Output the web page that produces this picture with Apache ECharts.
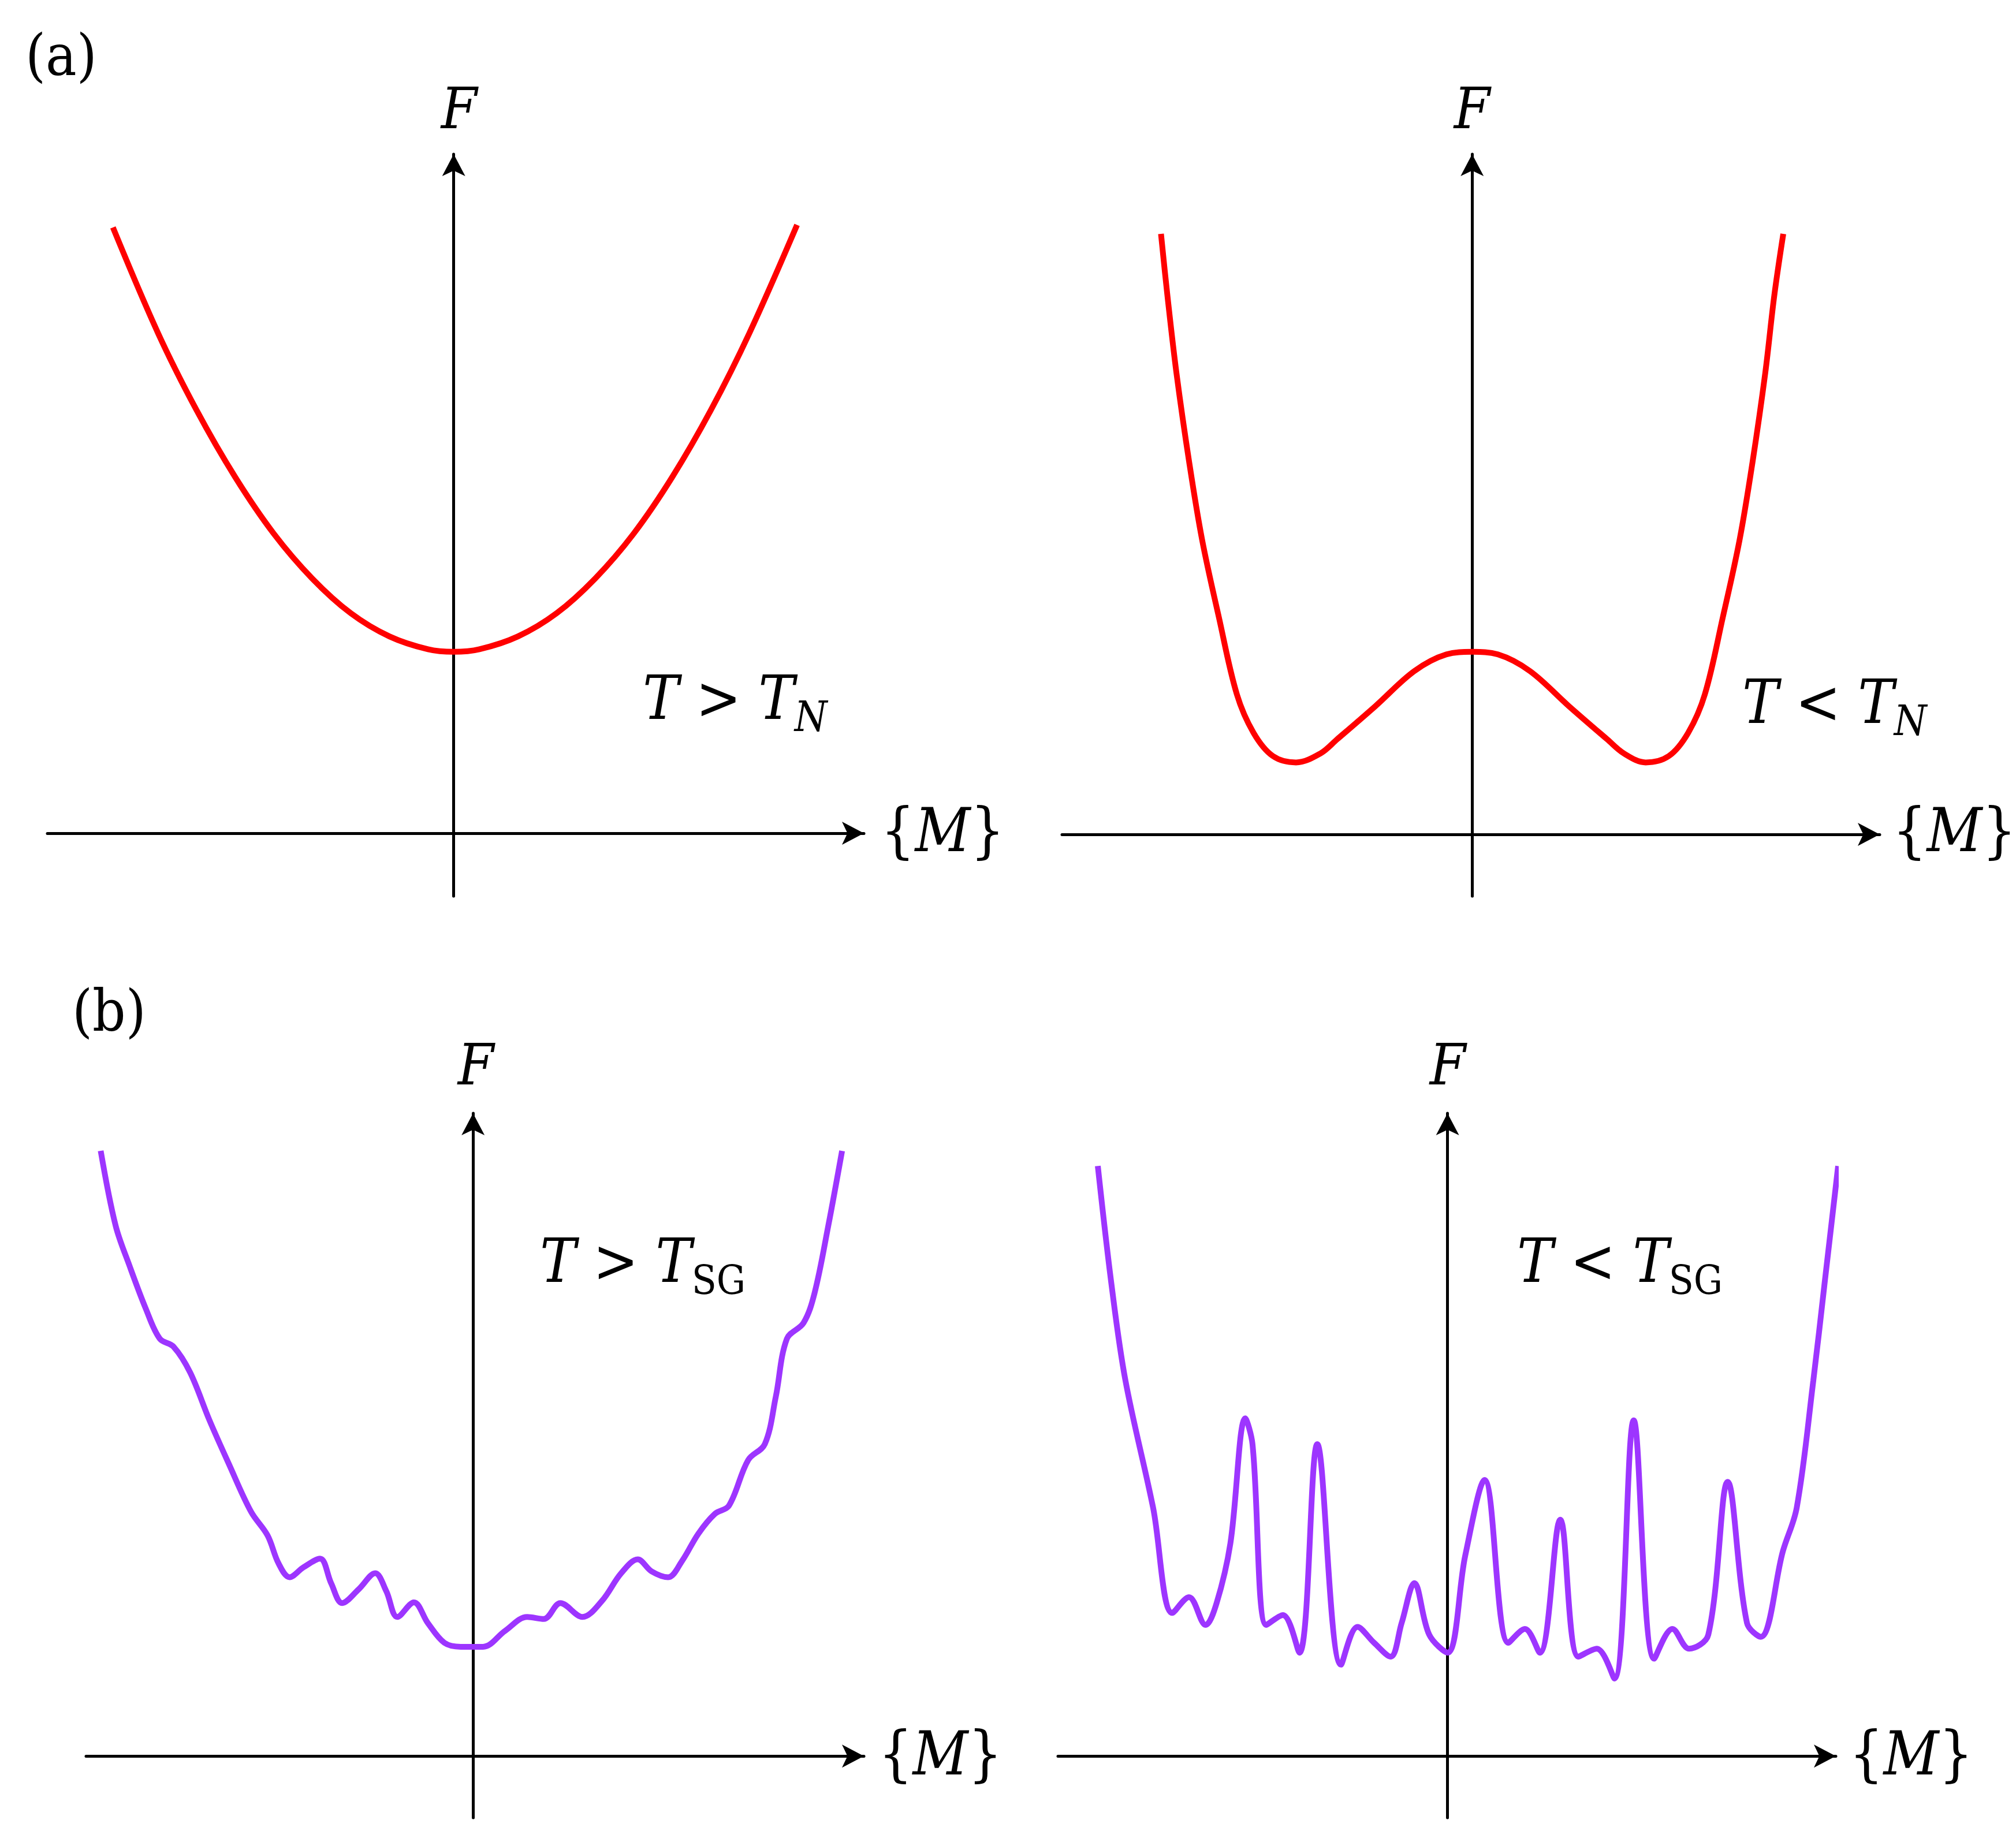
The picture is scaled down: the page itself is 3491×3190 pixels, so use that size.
<!DOCTYPE html>
<html>
<head>
<meta charset="utf-8">
<script src="https://cdn.jsdelivr.net/npm/echarts@6/dist/echarts.min.js"></script>
<style>html,body{margin:0;background:#fff}#c{width:3491px;height:3190px}</style>
</head>
<body>
<div id="c"></div>
<script>
// curve points, x/y measured from each panel's origin (picture units)
var aboveTN = [[-265,471],[-230,389],[-200,329],[-170,277],[-140,233],[-110,198],[-80,171],[-50,153],[-20,143],[0,141],
  [20,143],[50,153],[80,171],[110,198],[140,233],[170,277],[200,329],[230,389],[267,473]];
var belowTN = [[-242,467],[-237,419],[-230,359],[-220,289],[-210,229],[-197,169],[-183,109],[-170,79],[-155,61],[-137,56],
  [-118,63],[-105,74],[-75,100],[-45,127],[-20,140],[0,142],[20,140],[45,127],[75,100],[105,74],[118,63],
  [135,56],[153,61],[168,79],[181,109],[195,169],[208,229],[218,289],[228,359],[235,419],[242,467]];
var aboveTSG = [[-289.6,470.8],[-278,412.6],[-267.3,381.7],[-254.4,347.7],[-243.6,324.6],[-232.9,318.4],[-220,298.3],[-205,261.2],
  [-189.9,227.2],[-172.7,190.1],[-159.8,171.6],[-151.3,149.9],[-142.7,139.1],[-131.9,146.8],[-119,153.6],[-110.4,134.5],
  [-101.8,119],[-88.9,129.8],[-76.1,142.2],[-67.5,128.3],[-58.9,108.2],[-46,119.6],[-35.2,103.5],[-22.3,88.1],[-9.5,85],
  [7.7,85],[24.9,97.4],[42.1,108.2],[55,106.6],[67.9,119],[85.1,108.2],[100.1,120.5],[115.2,142.2],[128.1,153],[138.8,143.7],
  [151.7,139.1],[162.4,151.5],[175.3,173.1],[188.2,188.5],[199,194.7],[214,230.3],[226.9,242.6],[235.5,279.7],[244.1,324.6],
  [257,336.9],[265.6,360.1],[276.3,412.6],[287,470.8]];
var belowTSG = [[-272,459],[-261.3,366.3],[-250.5,292.1],[-229,193.2],[-214,111.3],[-201.1,123.6],[-188.2,102],[-179.6,119],
  [-168.9,165.4],[-157.3,262.7],[-151.7,242.6],[-140.9,102],[-128.1,109.7],[-115.2,80.4],[-101.3,242.6],[-82.9,71.1],
  [-70,100.5],[-57.1,88.1],[-44.3,77.3],[-35.7,103.5],[-25.8,134.5],[-14.2,94.3],[0,80.4],[13.8,156.1],[28.8,214.8],
  [47.3,88.1],[60.2,98.9],[71.8,80.4],[87.7,183.9],[101.8,77.3],[116,83.5],[129.8,60.3],[144.8,261.2],[160.7,75.7],
  [174.9,98.9],[187.8,83.5],[202.8,94.3],[217.9,213.3],[232.9,103.5],[243.6,92.7],[260.8,159.2],[271.6,193.2],
  [284.5,292.1],[293.1,366.3],[303.8,459]];

var xRanges = [[-316,319],[-319,317],[-301,304],[-303,302]];
var yRanges = [[-49,528],[-48,529],[-48,500],[-48,500]];
var grids = [
  {left:82, top:267, width:1414, height:1285},
  {left:1839, top:267, width:1416, height:1285},
  {left:149, top:1928, width:1347, height:1220},
  {left:1832, top:1928, width:1347, height:1220}
];
var curves = [aboveTN, belowTN, aboveTSG, belowTSG];
var colors = ['#ff0000','#ff0000','#9d35ff','#9d35ff'];

var chart = echarts.init(document.getElementById('c'));
var axisBase = {
  type: 'value', axisTick:{show:false}, axisLabel:{show:false}, splitLine:{show:false},
  axisLine:{onZero:true, symbol:['none','arrow'], symbolSize:[30,38], lineStyle:{color:'#000', width:5}}
};
var serif = '"DejaVu Serif Condensed", "Liberation Serif"';
function fLabel(x, y) {
  return {type:'text', x:x, y:y, style:{text:'F', font:'italic 100px ' + serif, fill:'#000', align:'center', verticalAlign:'middle'}};
}
function richText(x, y, text) {
  return {type:'text', x:x, y:y, style:{text:text, fontFamily:serif, fontSize:104, fill:'#000', verticalAlign:'middle',
    rich:{
      i:{fontFamily:serif, fontStyle:'italic', fontSize:104, lineHeight:130},
      b:{fontFamily:serif, fontSize:104, lineHeight:130},
      s:{fontFamily:serif, fontStyle:'italic', fontSize:72, lineHeight:74, verticalAlign:'bottom'},
      u:{fontFamily:serif, fontSize:70, lineHeight:74, verticalAlign:'bottom'}
    }}};
}

chart.setOption({
  animation: false,
  grid: grids,
  xAxis: xRanges.map(function(r, i){ return Object.assign({}, axisBase, {gridIndex:i, min:r[0], max:r[1]}); }),
  yAxis: yRanges.map(function(r, i){ return Object.assign({}, axisBase, {gridIndex:i, min:r[0], max:r[1]}); }),
  series: curves.map(function(d, i){
    return {type:'line', xAxisIndex:i, yAxisIndex:i, data:d, smooth:0.35, showSymbol:false,
      lineStyle:{color:colors[i], width:10}};
  }),
  graphic: [
    {type:'text', x:44, y:104, style:{text:'(a)', font:'100px ' + serif, fill:'#000', verticalAlign:'middle'}},
    {type:'text', x:125, y:1759, style:{text:'(b)', font:'100px ' + serif, fill:'#000', verticalAlign:'middle'}},
    fLabel(795, 196), fLabel(2549, 196), fLabel(824, 1852), fLabel(2507, 1852),
    richText(1525, 1447, '{b|{}{i|M}}'),
    richText(3277, 1447, '{b|{}{i|M}}'),
    richText(1521, 3046, '{b|{}{i|M}}'),
    richText(3202, 3046, '{b|{}{i|M}}'),
    richText(1113, 1218, '{i|T}{b| > }{i|T}{s|N}'),
    richText(3017, 1225, '{i|T}{b| < }{i|T}{s|N}'),
    richText(935, 2193, '{i|T}{b| > }{i|T}{u|SG}'),
    richText(2627, 2193, '{i|T}{b| < }{i|T}{u|SG}')
  ]
});
</script>
</body>
</html>
